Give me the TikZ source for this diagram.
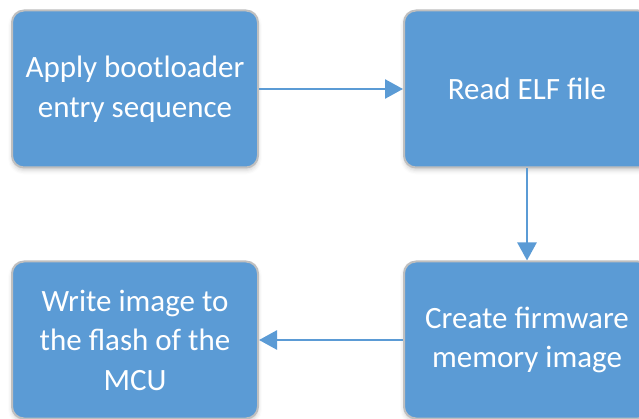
\documentclass[tikz,border=0pt]{standalone}
\usepackage{fontspec}
\setmainfont{Carlito}
\usetikzlibrary{arrows.meta,shadows.blur}
\definecolor{boxblue}{HTML}{5B9BD5}
\definecolor{boxedge}{HTML}{BFBFBF}
\tikzset{
  stepbox/.style={draw=boxedge, line width=2pt, fill=boxblue, rounded corners=12pt,
    minimum width=246pt, minimum height=157pt, inner sep=0pt,
    text=white, align=center, font=\fontsize{31}{39.5}\selectfont,
    blur shadow={shadow xshift=0pt, shadow yshift=-3pt, shadow blur radius=4pt, shadow opacity=18}},
  flow/.style={draw=boxblue, line width=2.5pt, -{Triangle[length=18pt,width=19pt]}}
}
\begin{document}
\begin{tikzpicture}[x=1pt,y=-1pt]
\useasboundingbox (0,0) rectangle (639,419);
\clip (0,0) rectangle (639,419);
\node[stepbox] (apply) at (135,89) {Apply bootloader\\entry sequence};
\node[stepbox] (read) at (527,89) {Read ELF file};
\node[stepbox] (create) at (527,340) {Create firmware\\memory image};
\node[stepbox] (write) at (135,340) {Write image to\\the flash of the\\MCU};
\draw[flow] (apply) -- (read);
\draw[flow] (read) -- (create);
\draw[flow] (create) -- (write);
\end{tikzpicture}
\end{document}
